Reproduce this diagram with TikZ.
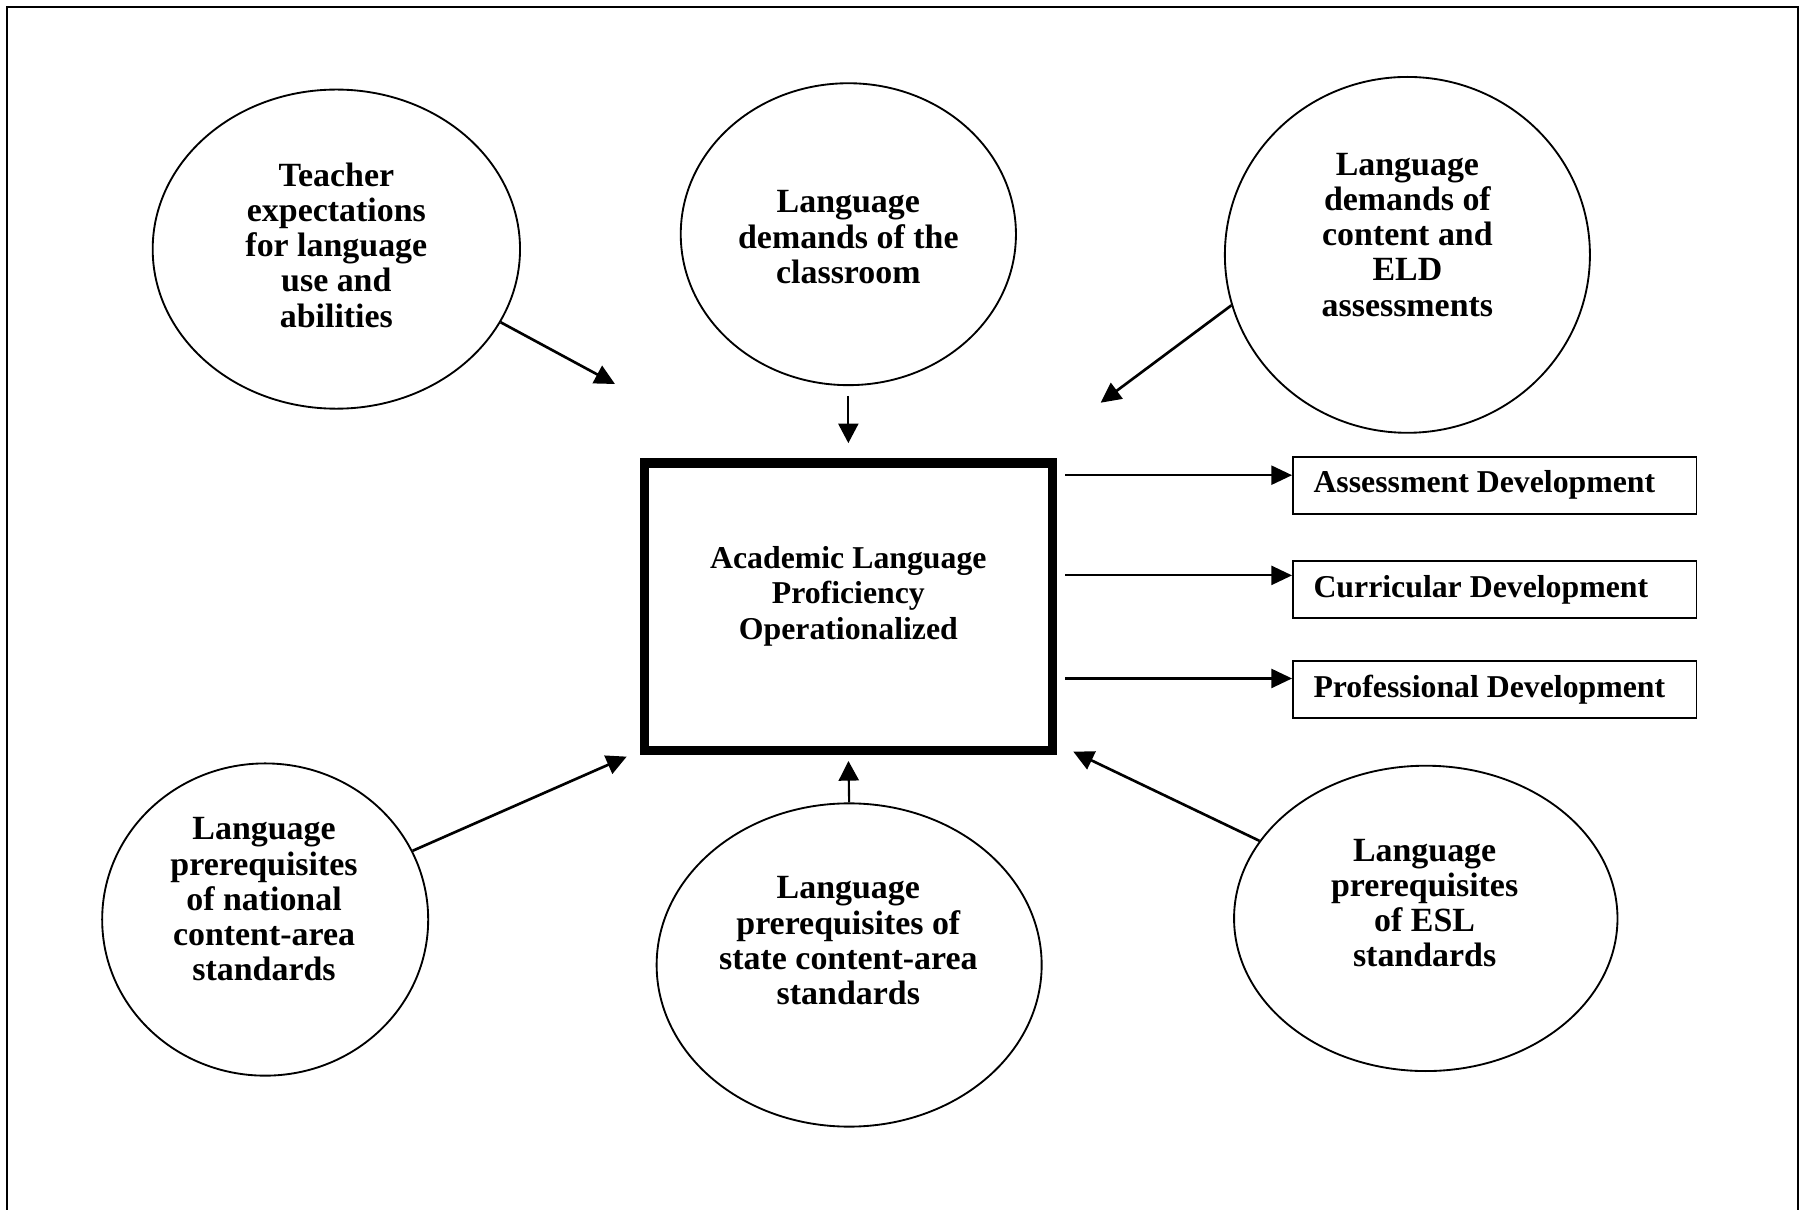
\documentclass[tikz,border=0pt]{standalone}
\usepackage{fontspec}
\setmainfont{Liberation Serif}
\usetikzlibrary{arrows.meta,calc,shapes.geometric}
\newcommand\myu{0.4333pt}
\begin{document}
\begin{tikzpicture}[x=0.4333pt,y=-0.4333pt,
  ell/.style={draw,ellipse,line width=0.7pt,inner sep=0pt},
  lbl/.style={font=\fontsize{12.8}{13.3}\selectfont\bfseries,align=center,inner sep=0pt,
    execute at begin node=\strut,execute at end node=\strut},
  clbl/.style={font=\fontsize{12}{13.4}\selectfont\bfseries,align=center,inner sep=0pt,
    execute at begin node=\strut,execute at end node=\strut},
  outbox/.style={draw,rectangle,line width=0.6pt,inner ysep=0pt,inner xsep=7.8pt,
    minimum height=49.5*\myu,anchor=west,
    font=\fontsize{12}{13.4}\selectfont\bfseries},
  diag/.style={-{Triangle[length=7.6pt,width=7.4pt]},line width=1pt},
  vert/.style={-{Triangle[length=7.4pt,width=7.6pt]},line width=0.8pt},
  horiz/.style={-{Triangle[length=7.8pt,width=7.2pt]},line width=0.8pt}]
\useasboundingbox (0,0) rectangle (1568,1054);
\clip (0,0) rectangle (1568,1054);
% outer frame
\draw[line width=0.85pt] (6,1070) -- (6,6) -- (1566.5,6) -- (1566.5,1070);

% ellipses
\node[ell,minimum width=320*\myu,minimum height=278*\myu] (teach) at (293,217) {};
\node[ell,minimum width=292*\myu,minimum height=263*\myu] (cls) at (739,204) {};
\node[ell,minimum width=318*\myu,minimum height=310*\myu] (eld) at (1226,222) {};
\node[ell,minimum width=284*\myu,minimum height=272*\myu] (nat) at (231,801) {};
\node[ell,minimum width=335.4*\myu,minimum height=281.6*\myu] (state) at (739.7,840.6) {};
\node[ell,minimum width=334*\myu,minimum height=266*\myu] (esl) at (1242,800) {};

% ellipse texts
\node[lbl] (teachT) at (293,218) {Teacher\\expectations\\for language\\use and\\abilities};
\node[lbl] (clsT) at (739,211) {Language\\demands of the\\classroom};
\node[lbl] (eldT) at (1226,209) {Language\\demands of\\content and\\ELD\\assessments};
\node[lbl] (natT) at (230,788) {Language\\prerequisites\\of national\\content-area\\standards};
\node[lbl] (stateT) at (739,824) {Language\\prerequisites of\\state content-area\\standards};
\node[lbl] (eslT) at (1241,791) {Language\\prerequisites\\of ESL\\standards};

% central box
\node[draw,line width=3.47pt,minimum width=355.2*\myu,minimum height=250.3*\myu,inner sep=0pt] (cbox) at (739.1,528.45) {};
\node[clbl] (cboxT) at (739,521) {Academic Language\\Proficiency\\Operationalized};

% output boxes
\node[outbox] (ab) at (1125.5,422.75) {\makebox[136.7pt][l]{Assessment Development}};
\node[outbox] (cb) at (1125.5,513.5) {\makebox[136.7pt][l]{Curricular Development}};
\node[outbox] (pb) at (1125.5,600.75) {\makebox[136.7pt][l]{Professional Development}};

% arrows to output boxes
\draw[horiz] ($(cbox.east |- ab.north west)+(3.2pt,-7.2pt)$) -- ($(ab.north west)+(0,-7.2pt)$);
\draw[horiz] ($(cbox.east |- cb.north west)+(3.2pt,-5.7pt)$) -- ($(cb.north west)+(0,-5.7pt)$);
\draw[horiz] ($(cbox.east |- pb.north west)+(3.2pt,-6.8pt)$) -- ($(pb.north west)+(0,-6.8pt)$);

% vertical arrows
\coordinate (tC) at (739,386);
\draw[vert] ($(cls.south)+(0,-3.7pt)$) -- (tC);
\draw[vert] (state.north) -- ($(cbox.south)+(0,-2.3pt)$);

% diagonal arrows
\coordinate (tT) at (535.7,334.5);
\draw[diag] (teach.-24) -- (tT);
\coordinate (tE) at (958.8,350.8);
\draw[diag] (eld.196) -- (tE);
\coordinate (tN) at (545.9,659.1);
\draw[diag] (nat.25) -- (tN);
\coordinate (tS) at (935,654.8);
\draw[diag] (esl.155) -- (tS);
\end{tikzpicture}
\end{document}
